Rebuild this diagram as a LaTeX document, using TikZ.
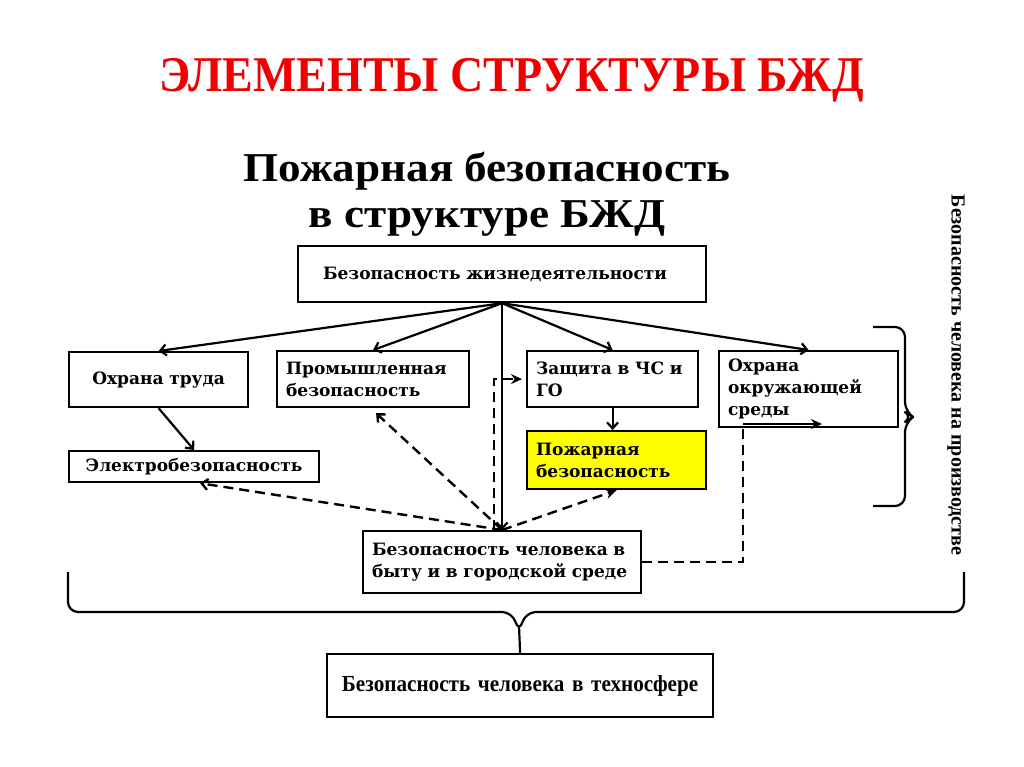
\documentclass[tikz,border=0pt]{standalone}
\usepackage{fontspec}
\setmainfont{DejaVu Serif}
\newfontfamily\timesfont{Liberation Serif}
\newfontfamily\widefont{Liberation Serif}[FakeStretch=1.1]
\newfontfamily\narrowfont{Liberation Serif}[FakeStretch=0.92]
\definecolor{titlered}{RGB}{240, 0, 0}
\definecolor{fireyellow}{RGB}{255, 255, 0}
\usetikzlibrary{arrows.meta, positioning}

\begin{document}
\begin{tikzpicture}[x=1pt, y=-1pt,
  box/.style={draw, line width=2.2pt, anchor=north west, inner xsep=9pt, inner ysep=0pt,
    align=left, font=\bfseries\fontsize{17}{22}\selectfont},
  link/.style={line width=2.2pt, -{Straight Barb[length=6pt, width=11pt]}},
  dlink/.style={line width=2.4pt, dash pattern=on 10pt off 6pt, -{Straight Barb[length=6pt, width=11pt]}},
  slink/.style={line width=2.4pt, dash pattern=on 10pt off 6pt, -{Stealth[length=11pt, width=10pt]}},
  bracepen/.style={line width=2.2pt, rounded corners=10pt}]
  \useasboundingbox (0,0) rectangle (1024,767);

  % titles
  \node[text=titlered, font=\narrowfont\bfseries\fontsize{50}{56}\selectfont] (title) at (512,80) {ЭЛЕМЕНТЫ СТРУКТУРЫ БЖД};
  \node[align=center, font=\widefont\bfseries\fontsize{41}{46}\selectfont] (subtitle) at (487,194) {Пожарная безопасность\\в структуре БЖД};

  % boxes
  \node[box, inner xsep=25pt, text width=358pt, minimum height=56pt] (bzd) at (297,245) {Безопасность жизнедеятельности};
  \node[box, text width=161pt, minimum height=55pt, align=center] (ohrtr) at (68,351) {Охрана труда};
  \node[box, text width=174pt, minimum height=56pt] (prom) at (276,350) {Промышленная\\безопасность};
  \node[box, text width=153pt, minimum height=56pt] (zash) at (526,350) {Защита в ЧС и\\ГО};
  \node[box, text width=161pt, minimum height=76pt] (ohrokr) at (718,350) {Охрана\\окружающей\\среды};
  \node[box, text width=232pt, minimum height=31pt, align=center] (elektr) at (68,450) {Электробезопасность};
  \node[box, fill=fireyellow, text width=161pt, minimum height=58pt] (pozh) at (526,430) {Пожарная\\безопасность};
  \node[box, text width=260pt, minimum height=62pt] (byt) at (362,530) {Безопасность человека в\\быту и в городской среде};
  \node[box, text width=368pt, minimum height=63pt, align=center,
    font=\narrowfont\bfseries\fontsize{23}{28}\selectfont] (tehno) at (326,653) {Безопасность человека в техносфере};
  \node[rotate=-90, font=\timesfont\bfseries\fontsize{20}{24}\selectfont] (proizv) at (956,375) {Безопасность человека на производстве};

  % links from the top box
  \draw[link] (bzd.south) -- (ohrtr.north);
  \draw[link] (bzd.south) -- (prom.north);
  \draw[link] (bzd.south) -- (zash.north);
  \draw[link] (bzd.south) -- (ohrokr.north);
  \draw[link] (bzd.south) -- (byt.north);
  \draw[link] (ohrtr.south) -- (elektr.north);
  \draw[link] (zash.south) -- (zash.south |- pozh.north);

  % dashed links from everyday safety
  \draw[dlink] (byt.north) -- ([xshift=6pt]elektr.south);
  \draw[dlink] (byt.north) -- ([xshift=3pt, yshift=-5pt]prom.south);
  \draw[slink] (byt.north) -- (pozh.south);
  \draw[slink] ([xshift=-8pt]byt.north) |- ([xshift=-4pt]zash.west);
  \coordinate (envturn) at (743,424);
  \coordinate (envend) at (822,424);
  \draw[line width=2.4pt, dash pattern=on 10pt off 6pt] (byt.east) -| (envturn);
  \draw[line width=2.2pt, -{Stealth[length=11pt, width=10pt]}] (envturn) -- (envend);

  % braces
  \draw[bracepen] (873,327) -- (905,327) -- (905,412) -- (913,417) -- (905,422) -- (905,506) -- (873,506);
  \draw[bracepen] (68,572) -- (68,612) -- (512,612) -- (519,632) -- (526,612) -- (964,612) -- (964,572);
  \coordinate (bracetip) at (519,626);
  \draw[line width=2.2pt] (bracetip) -- (tehno.north);
\end{tikzpicture}
\end{document}
